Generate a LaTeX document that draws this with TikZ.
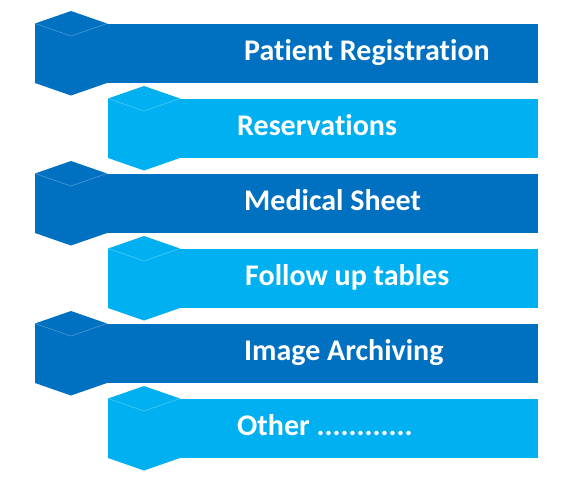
\documentclass[tikz,border=0pt]{standalone}
\usepackage{fontspec}
\setmainfont[Ligatures=NoCommon]{Carlito}
\usetikzlibrary{positioning}
\definecolor{darkbar}{HTML}{0070C0}
\definecolor{lightbar}{HTML}{00B0F0}
\tikzset{
  bar/.style={
    rectangle, inner sep=0pt, outer sep=0pt,
    minimum height=59.5pt, anchor=north west
  },
  itemtext/.style={
    text=white, inner sep=0pt, anchor=base west,
    font=\fontsize{30}{32}\selectfont\bfseries
  },
  topface/.style={draw=white, draw opacity=0.3, line width=0.6pt},
}

\begin{document}
\begin{tikzpicture}[x=1pt, y=-1pt]
  \useasboundingbox (0,0) rectangle (577,480);

  % Bars with hexagon heads
  \foreach \i/\col/\hx/\tx/\txt in {
      0/darkbar/35/244/{Patient Registration},
      1/lightbar/108/237/{Reservations},
      2/darkbar/35/244/{Medical Sheet},
      3/lightbar/108/245/{Follow up tables},
      4/darkbar/35/244/{Image Archiving},
      5/lightbar/108/237/{Other ............}} {
    \pgfmathsetmacro\ytop{23.5+75*\i}
    \pgfmathsetmacro\w{538-\hx}
    \node[bar, fill=\col, minimum width=\w pt] (bar\i) at (\hx,\ytop) {};
    \fill[\col] (bar\i.north west) -- ++(36,-12.5) -- ++(36,12.5)
      -- ++(0,59.5) -- ++(-36,12.5) -- ++(-36,-12.5) -- cycle;
    \draw[topface] (bar\i.north west) -- ++(36,12.5) -- ++(36,-12.5);
    \node[itemtext] (txt\i) at (\tx,\ytop+37) {\txt};
  }

\end{tikzpicture}
\end{document}
